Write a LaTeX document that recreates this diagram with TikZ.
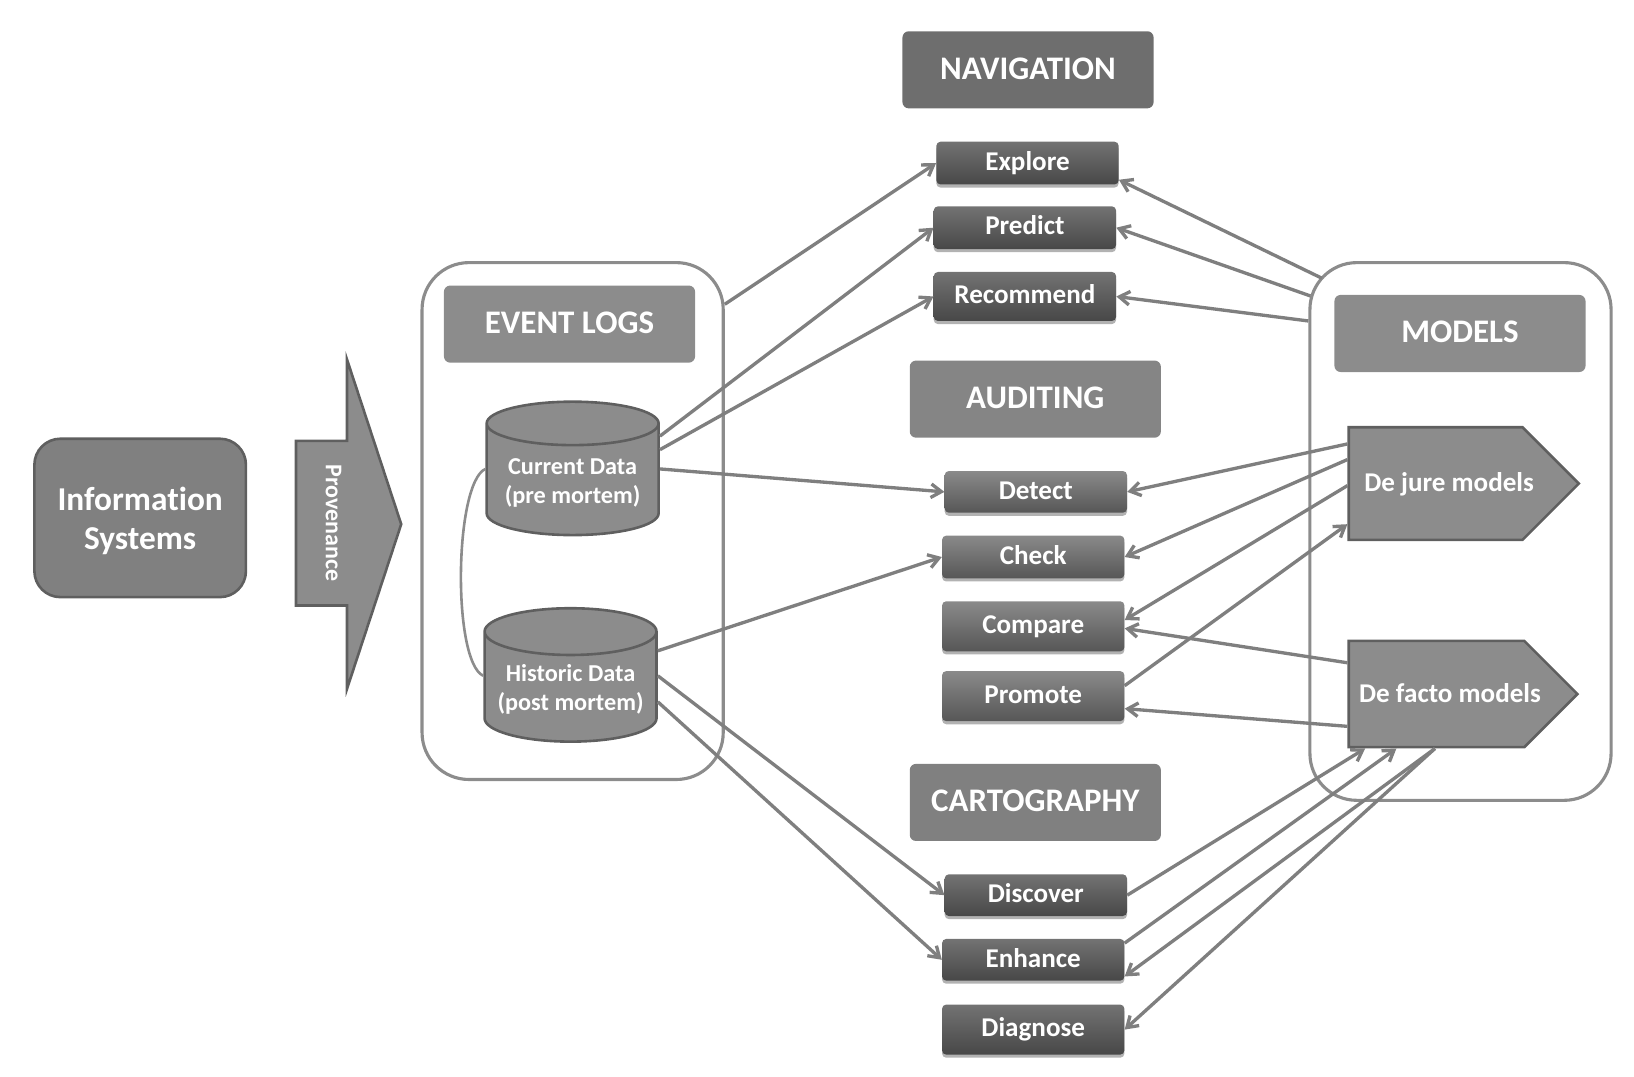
\documentclass[tikz,border=0pt]{standalone}
\usepackage{fontspec}
\setmainfont{Carlito}[Ligatures=NoCommon]
\usepackage{tikz}
\usetikzlibrary{arrows.meta,calc,shadows,shapes.geometric,shapes.symbols}
\definecolor{boxgray}{HTML}{8C8C8C}
\definecolor{edgegray}{HTML}{5F5F5F}
\definecolor{linegray}{HTML}{7F7F7F}
\tikzset{
  headbox/.style={rounded corners=6pt, minimum width=241pt, minimum height=74pt, inner sep=0pt, text height=18pt, text depth=0pt, text=white, font=\fontsize{31.6}{36}\selectfont\bfseries},
  opbox/.style={rounded corners=4pt, minimum width=175pt, inner sep=0pt, text height=14pt, text depth=0pt, text=white, font=\fontsize{26}{30}\selectfont\bfseries, drop shadow={shadow xshift=0pt, shadow yshift=-3pt, fill=black, opacity=0.3}},
  darkop/.style={opbox, top color=black!55, bottom color=black!72},
  lightop/.style={opbox, top color=black!46, bottom color=black!66},
  groupbox/.style={draw=boxgray, line width=3pt, rounded corners=45pt},
  database/.style={cylinder, shape border rotate=90, shape aspect=0.32, draw=edgegray, line width=2.5pt, fill=boxgray, minimum width=165pt, minimum height=128pt, inner sep=0pt, align=center, text=white, font=\fontsize{23.3}{28}\selectfont\bfseries},
  modelsig/.style={signal, signal to=east, signal from=nowhere, signal pointer angle=90, anchor=west, draw=edgegray, line width=2.5pt, fill=boxgray, inner sep=0pt, text height=16pt, text depth=0pt, text=white, font=\fontsize{26}{30}\selectfont\bfseries},
  flow/.style={draw=linegray, line width=3.2pt, -{Straight Barb[length=10pt,width=13pt]}},
  plainflow/.style={draw=linegray, line width=3pt}
}
\begin{document}
\begin{tikzpicture}[x=1pt, y=-1pt]
\useasboundingbox (0,0) rectangle (1568,1033);

\node[draw=edgegray, line width=2.5pt, fill=black!50, rounded corners=25pt, minimum width=203pt, minimum height=152pt, inner sep=0pt, align=center, text=white, font=\fontsize{32}{37}\selectfont\bfseries] (infosys) at (134.5,497) {\rule{0pt}{28pt}Information\\Systems};
\draw[draw=edgegray, line width=2.5pt, fill=boxgray] (284,423) -- (333,423) -- (333,345) -- (385,503) -- (333,661) -- (333,581) -- (284,581) -- cycle;
\node[rotate=-90, text=white, font=\fontsize{23}{26}\selectfont\bfseries, inner sep=0pt] (prov) at (320,502) {Provenance};

% event logs
\node[groupbox, minimum width=289pt, minimum height=496pt] (logs) at (549.5,500) {};
\node[headbox, fill=boxgray] (logshead) at (546.5,311) {EVENT LOGS};
\node[database] (cur) at (549.5,460.5) {\rule{0pt}{21pt}Current Data\\(pre mortem)};
\node[database] (his) at (547.5,659.5) {\rule{0pt}{21pt}Historic Data\\(post mortem)};

% models
\node[groupbox, minimum width=289pt, minimum height=516pt] (models) at (1401.5,510) {};
\node[headbox, fill=boxgray] (modelshead) at (1401,320) {MODELS};
\node[modelsig, minimum height=108pt] (dejure) at (1293,464) {\hspace*{15pt}De jure models\hspace*{-11pt}};
\node[modelsig, minimum height=102pt] (defacto) at (1293,666) {\hspace*{10pt}De facto models\hspace*{-16pt}};

% analysis groups
\node[headbox, fill=black!57] (nav) at (986.5,67) {NAVIGATION};
\node[headbox, fill=black!48] (aud) at (993.5,383) {AUDITING};
\node[headbox, fill=black!50] (car) at (993.5,770) {CARTOGRAPHY};

\node[darkop, minimum height=41pt] (explore) at (986,156.5) {Explore};
\node[darkop, minimum height=41pt] (predict) at (983.5,218.5) {Predict};
\node[darkop, minimum height=47pt] (recommend) at (983.5,284.5) {Recommend};
\node[lightop, minimum height=40pt] (detect) at (994,472) {Detect};
\node[lightop, minimum height=41pt] (check) at (991.5,534.5) {Check};
\node[lightop, minimum height=48pt] (compare) at (991.5,601) {Compare};
\node[lightop, minimum height=48pt] (promote) at (991.5,668) {Promote};
\node[darkop, minimum height=40pt] (discover) at (994,859) {Discover};
\node[darkop, minimum height=40pt] (enhance) at (991.5,921) {Enhance};
\node[darkop, minimum height=48pt] (diagnose) at (991.5,988) {Diagnose};

\draw[plainflow, line width=2.5pt, draw=boxgray] ($(cur.west)+(0,-10.5)$) to[out=205, in=155, distance=33pt] ($(his.west)+(0,-11)$);

% logs to operations
\draw[flow] ($(logs.east)+(0,-208)$) -- (explore.west);
\draw[flow] ($(cur.east)+(0,-42)$) -- (predict.west);
\draw[flow] ($(cur.east)+(0,-29)$) -- (recommend.west);
\draw[flow] ($(cur.east)+(0,-10.5)$) -- (detect.west);
\draw[flow] ($(his.east)+(0,-35)$) -- (check.west);
\draw[flow] ($(his.east)+(0,-11)$) -- (discover.west);
\draw[flow] ($(his.east)+(0,14)$) -- (enhance.west);

% models to operations
\draw[flow] ($(models.west)+(13,-243)$) -- ($(explore.east)+(0,16)$);
\draw[flow] ($(models.west)+(2,-226)$) -- (predict.east);
\draw[flow] ($(models.west)+(0,-202)$) -- (recommend.east);
\draw[flow] ($(dejure.west)+(0,-38)$) -- (detect.east);
\draw[flow] ($(dejure.west)+(0,-23)$) -- (check.east);
\draw[flow] ($(dejure.west)+(0,2)$) -- ($(compare.east)+(0,-6)$);
\draw[flow] ($(defacto.west)+(0,-30)$) -- ($(compare.east)+(0,2)$);
\draw[flow] ($(promote.east)+(0,-10)$) -- ($(dejure.west)+(0,39)$);
\draw[flow] ($(defacto.west)+(0,31)$) -- ($(promote.east)+(0,12)$);
\draw[flow] (discover.east) -- ($(defacto.south west)+(17,0)$);
\draw[flow] ($(enhance.east)+(0,-16)$) -- ($(defacto.south west)+(47,0)$);
\draw[flow] ($(defacto.south west)+(84,0)$) -- ($(enhance.east)+(0,16)$);
\draw[flow] ($(defacto.south west)+(84,0)$) -- (diagnose.east);
\end{tikzpicture}
\end{document}
